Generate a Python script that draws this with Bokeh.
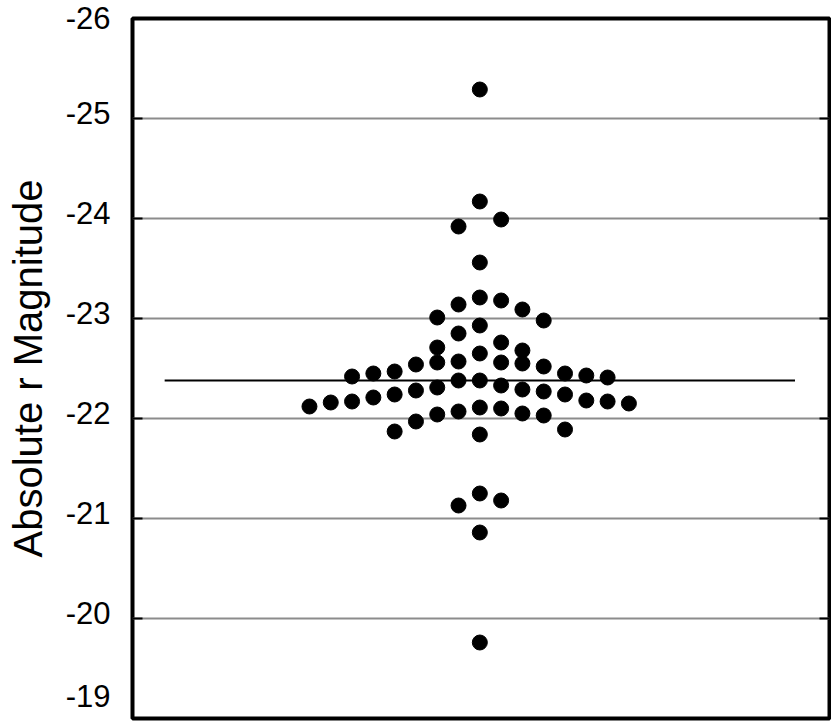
from bokeh.plotting import figure
from bokeh.models import Range1d, FixedTicker, LinearAxis, ColumnDataSource, CustomJSTickFormatter
from bokeh.embed import file_html
from bokeh.resources import INLINE

# Absolute r magnitudes (beeswarm), with swarm column offsets
magnitude = [
    -25.29, -24.17, -23.56, -23.21, -22.93, -22.65, -22.38, -22.11, -21.84, -21.25, -20.86, -19.76,
    -23.99, -23.18, -22.76, -22.56, -22.33, -22.10, -21.18,
    -23.92, -23.14, -22.85, -22.57, -22.38, -22.07, -21.13,
    -23.09, -22.68, -22.55, -22.29, -22.05,
    -23.01, -22.71, -22.56, -22.31, -22.04,
    -22.98, -22.52, -22.27, -22.03,
    -22.54, -22.28, -21.97,
    -22.47, -22.24, -21.87,
    -22.45, -22.24, -21.89,
    -22.45, -22.21,
    -22.43, -22.18,
    -22.42, -22.17,
    -22.41, -22.17,
    -22.16,
    -22.15,
    -22.12,
]
swarm_col = (
    [0] * 12 + [1] * 7 + [-1] * 7 + [2] * 5 + [-2] * 5 + [3] * 4 + [-3] * 3 + [-4] * 3
    + [4] * 3 + [-5] * 2 + [5] * 2 + [-6] * 2 + [6] * 2 + [-7] + [7] + [-8]
)
mean_value = -22.38
mean_extent = [-14.8, 14.8]
y_ticks = [-26, -25, -24, -23, -22, -21, -20, -19]
y_tick_labels = ["-26", "-25", "-24", "-23", "-22", "-21", "-20", "-19"]

FONT = "Liberation Sans"

p = figure(
    width=831, height=724,
    x_range=Range1d(-16.31, 16.42),
    y_range=Range1d(-19, -26),
    output_backend="svg", toolbar_location=None,
    min_border_left=132, min_border_right=2, min_border_top=18, min_border_bottom=6,
)
p.xaxis.visible = False
p.xgrid.visible = False
p.background_fill_color = "white"
p.border_fill_color = "white"
p.outline_line_color = "black"
p.outline_line_width = 4

yax = p.yaxis[0]
yax.ticker = FixedTicker(ticks=y_ticks)
# trailing blank line with a small line height lifts each label a few pixels above its tick
yax.major_label_overrides = {t: s + "\n " for t, s in zip(y_ticks, y_tick_labels)}
yax.major_label_text_line_height = 0.3
yax.axis_line_color = None
yax.major_tick_out = 0
yax.major_tick_in = 10
yax.major_tick_line_color = "black"
yax.major_tick_line_width = 2
yax.minor_tick_line_color = None
yax.major_label_text_font = FONT
yax.major_label_text_font_size = "31px"
yax.major_label_text_color = "black"
yax.major_label_standoff = 22
yax.axis_label = "Absolute r Magnitude"
yax.axis_label_text_font = FONT
yax.axis_label_text_font_size = "40px"
yax.axis_label_text_font_style = "normal"
yax.axis_label_text_color = "black"
yax.axis_label_standoff = 13

rax = LinearAxis(ticker=FixedTicker(ticks=y_ticks),
                 formatter=CustomJSTickFormatter(code="return '';"))
rax.axis_line_color = None
rax.major_tick_out = 0
rax.major_tick_in = 10
rax.major_tick_line_color = "black"
rax.major_tick_line_width = 2
rax.minor_tick_line_color = None
rax.major_label_standoff = 0
p.add_layout(rax, "right")

p.ygrid.ticker = FixedTicker(ticks=y_ticks)
p.ygrid.grid_line_color = "#8c8c8c"
p.ygrid.grid_line_width = 2

p.line(mean_extent, [mean_value, mean_value], line_color="black", line_width=2)

src = ColumnDataSource(dict(x=swarm_col, y=magnitude))
p.scatter("x", "y", source=src, size=15, fill_color="black", line_color="black")

open("out.html", "w").write(file_html(p, INLINE))
